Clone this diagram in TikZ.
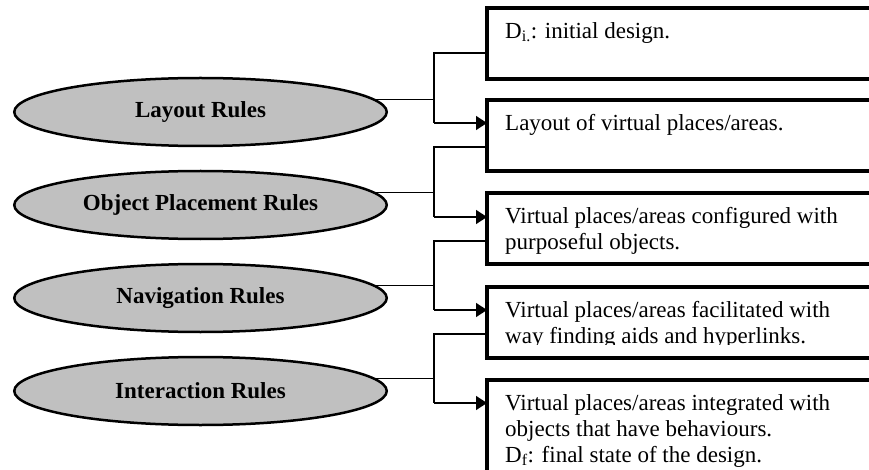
\documentclass[tikz,border=0pt]{standalone}
\usepackage{fontspec}
\setmainfont{Liberation Serif}
\usetikzlibrary{shapes.geometric,arrows.meta}
\definecolor{rulegray}{RGB}{192,192,192}
\begin{document}
\begin{tikzpicture}[x=1pt,y=-1pt,
  rule/.style={ellipse, draw, line width=2.5pt, fill=rulegray, minimum width=372.5pt, minimum height=68pt, inner sep=0pt, font=\fontsize{23}{26}\selectfont\bfseries},
  stepbox/.style={rectangle, draw, line width=3.5pt, minimum width=420pt, minimum height=71pt, anchor=north west, outer sep=0pt, inner sep=0pt},
  boxtext/.style={anchor=north west, align=left, inner sep=0pt, font=\fontsize{23}{26}\selectfont},
  conn/.style={line width=1.3pt},
  arr/.style={conn, -{Triangle[length=11pt,width=14pt]}}]
\useasboundingbox (0,0) rectangle (869,470);

% rule ellipses
\node[rule] (e1) at (200.5,112) {Layout Rules};
\node[rule] (e2) at (200.5,205) {Object Placement Rules};
\node[rule] (e3) at (200.5,298) {Navigation Rules};
\node[rule] (e4) at (200.5,391) {Interaction Rules};

% state boxes
\node[stepbox] (b1) at (487,8) {};
\node[stepbox] (b2) at (487,100) {};
\node[stepbox] (b3) at (487,193) {};
\node[stepbox] (b4) at (487,287) {};
\node[stepbox, minimum height=130pt] (b5) at (487,380) {};

% box texts
\node[boxtext] (x1) at (505,22) {D\textsubscript{i.}: initial design.};
\node[boxtext] (x2) at (505,114) {Layout of virtual places/areas.};
\node[boxtext] (x3) at (505,207) {Virtual places/areas configured with\\purposeful objects.};
\begin{scope}
  \clip (489,289) rectangle (880,344);
  \node[boxtext] (x4) at (505,301) {Virtual places/areas facilitated with\\way finding aids and hyperlinks.};
\end{scope}
\node[boxtext] (x5) at (505,394) {Virtual places/areas integrated with\\objects that have behaviours.\\D\textsubscript{f}: final state of the design.};

% junction coordinates
\coordinate (k1) at (434,53);  \coordinate (a1) at (434,123);
\coordinate (k2) at (434,147); \coordinate (a2) at (434,217);
\coordinate (k3) at (434,241); \coordinate (a3) at (434,310);
\coordinate (k4) at (434,334); \coordinate (a4) at (434,403);

% connectors
\draw[conn] (b1.west |- k1) -- (k1) -- (a1);
\draw[arr] (a1) -- (a1 -| b2.west);
\draw[conn] (e1.4) -- (e1.4 -| k1);

\draw[conn] (b2.west |- k2) -- (k2) -- (a2);
\draw[arr] (a2) -- (a2 -| b3.west);
\draw[conn] (e2.4) -- (e2.4 -| k2);

\draw[conn] (b3.west |- k3) -- (k3) -- (a3);
\draw[arr] (a3) -- (a3 -| b4.west);
\draw[conn] (e3.4) -- (e3.4 -| k3);

\draw[conn] (b4.west |- k4) -- (k4) -- (a4);
\draw[arr] (a4) -- (a4 -| b5.west);
\draw[conn] (e4.4) -- (e4.4 -| k4);
\end{tikzpicture}
\end{document}
